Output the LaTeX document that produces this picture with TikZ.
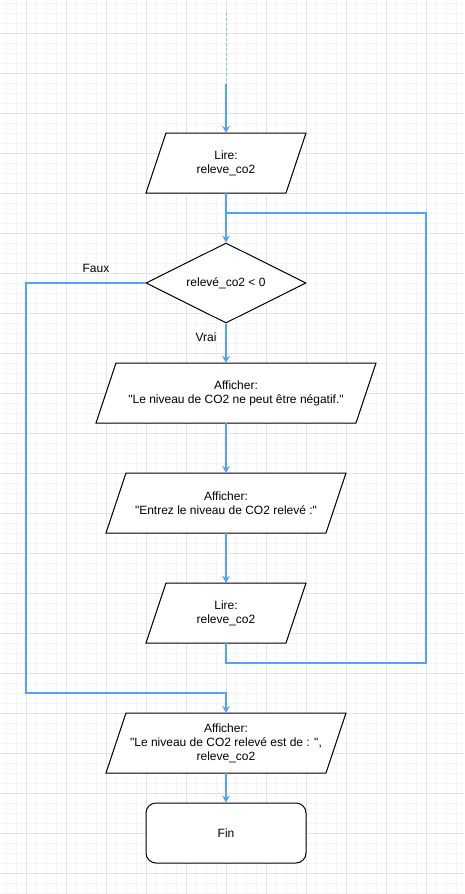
\documentclass[tikz,border=0pt]{standalone}
\usepackage{fontspec}
\setmainfont{Liberation Sans}[Ligatures=TeXOff]
\usetikzlibrary{shapes.geometric}
\usetikzlibrary{arrows.meta}
\usetikzlibrary{calc}
\definecolor{flowblue}{HTML}{4DA3FF}
\definecolor{gridmajor}{HTML}{E3E3E3}
\definecolor{gridminor}{HTML}{F4F4F4}
\tikzset{
	shapeline/.style={draw=black, line width=1pt},
	flow/.style={draw=flowblue, line width=1.3pt, -{Stealth[length=7pt,width=8pt,inset=2.5pt]}},
	flowline/.style={draw=flowblue, line width=1.3pt},
	flowdash/.style={draw=flowblue!70, line width=1pt, dash pattern=on 3pt off 2pt},
	iotext/.style={minimum height=60pt, inner sep=0pt, align=center, font=\fontsize{12}{14}\selectfont},
	label text/.style={inner sep=0pt, font=\fontsize{12}{14}\selectfont}
}
\newcommand{\para}[5] % name, x center, y center, base width, text
{
	% outline
	\draw[shapeline, fill=white] (#2-#4/2-10,#3+30) -- ++(#4,0) -- ++(20,-60) -- ++(-#4,0) -- cycle;
	% text
	\node[iotext] (#1) at (#2,#3) {#5};
}

\begin{document}
\begin{tikzpicture}[x=1pt, y=-1pt]
	% page 464 x 894 px
	\useasboundingbox (0,0) rectangle (464,894);
	\fill[white] (0,0) rectangle (464,894);
	% grid
	\foreach \x in {6.7,16.7,...,464} \draw[gridminor, line width=0.6pt] (\x,0) -- (\x,894);
	\foreach \y in {3.3,13.3,...,894} \draw[gridminor, line width=0.6pt] (0,\y) -- (464,\y);
	\foreach \x in {26.7,66.7,...,464} \draw[gridmajor, line width=0.8pt] (\x,0) -- (\x,894);
	\foreach \y in {33.3,73.3,...,894} \draw[gridmajor, line width=0.8pt] (0,\y) -- (464,\y);

	% blocks
	\para{lire1}{226}{163}{140}{Lire:\\releve\_co2};
	\node[diamond, aspect=2, shapeline, fill=white, inner sep=0pt, minimum width=160pt, minimum height=80pt,
		font=\fontsize{12}{14}\selectfont] (test) at (226,283) {relevé\_co2 < 0};
	\para{aff1}{236}{393}{260}{Afficher:\\"Le niveau de CO2 ne peut être négatif."};
	\para{aff2}{226}{503}{220}{Afficher:\\"Entrez le niveau de CO2 relevé :"};
	\para{lire2}{226}{613}{140}{Lire:\\releve\_co2};
	\para{aff3}{226}{743}{220}{Afficher:\\"Le niveau de CO2 relevé est de : ",\\releve\_co2};
	\node[shapeline, fill=white, rounded corners=10pt, minimum width=160pt, minimum height=60pt,
		font=\fontsize{12}{14}\selectfont] (fin) at (226,833) {Fin};

	% labels
	\node[label text] (faux) at (96,268) {Faux};
	\node[label text] (vrai) at (206,337) {Vrai};

	% connectors
	\coordinate (start) at (226,13);
	\coordinate (startend) at (226,84);
	\coordinate (loopbot) at (426,663);
	\coordinate (looptop) at (426,213);
	\coordinate (fauxbot) at (26,693);

	\draw[flowdash] (start) -- (startend);
	\draw[flow] (startend) -- (lire1.north);
	\draw[flow] (lire1.south) -- (test.north);
	\draw[flow] (test.south) -- (test.south |- aff1.north);
	\draw[flow] (aff2.north |- aff1.south) -- (aff2.north);
	\draw[flow] (aff2.south) -- (lire2.north);
	\draw[flowline] (lire2.south) |- (loopbot) -- (looptop) -| (lire1.south);
	\draw[flow] (test.west) -| (fauxbot) -| (aff3.north);
	\draw[flow] (aff3.south) -- (fin.north);
\end{tikzpicture}
\end{document}
